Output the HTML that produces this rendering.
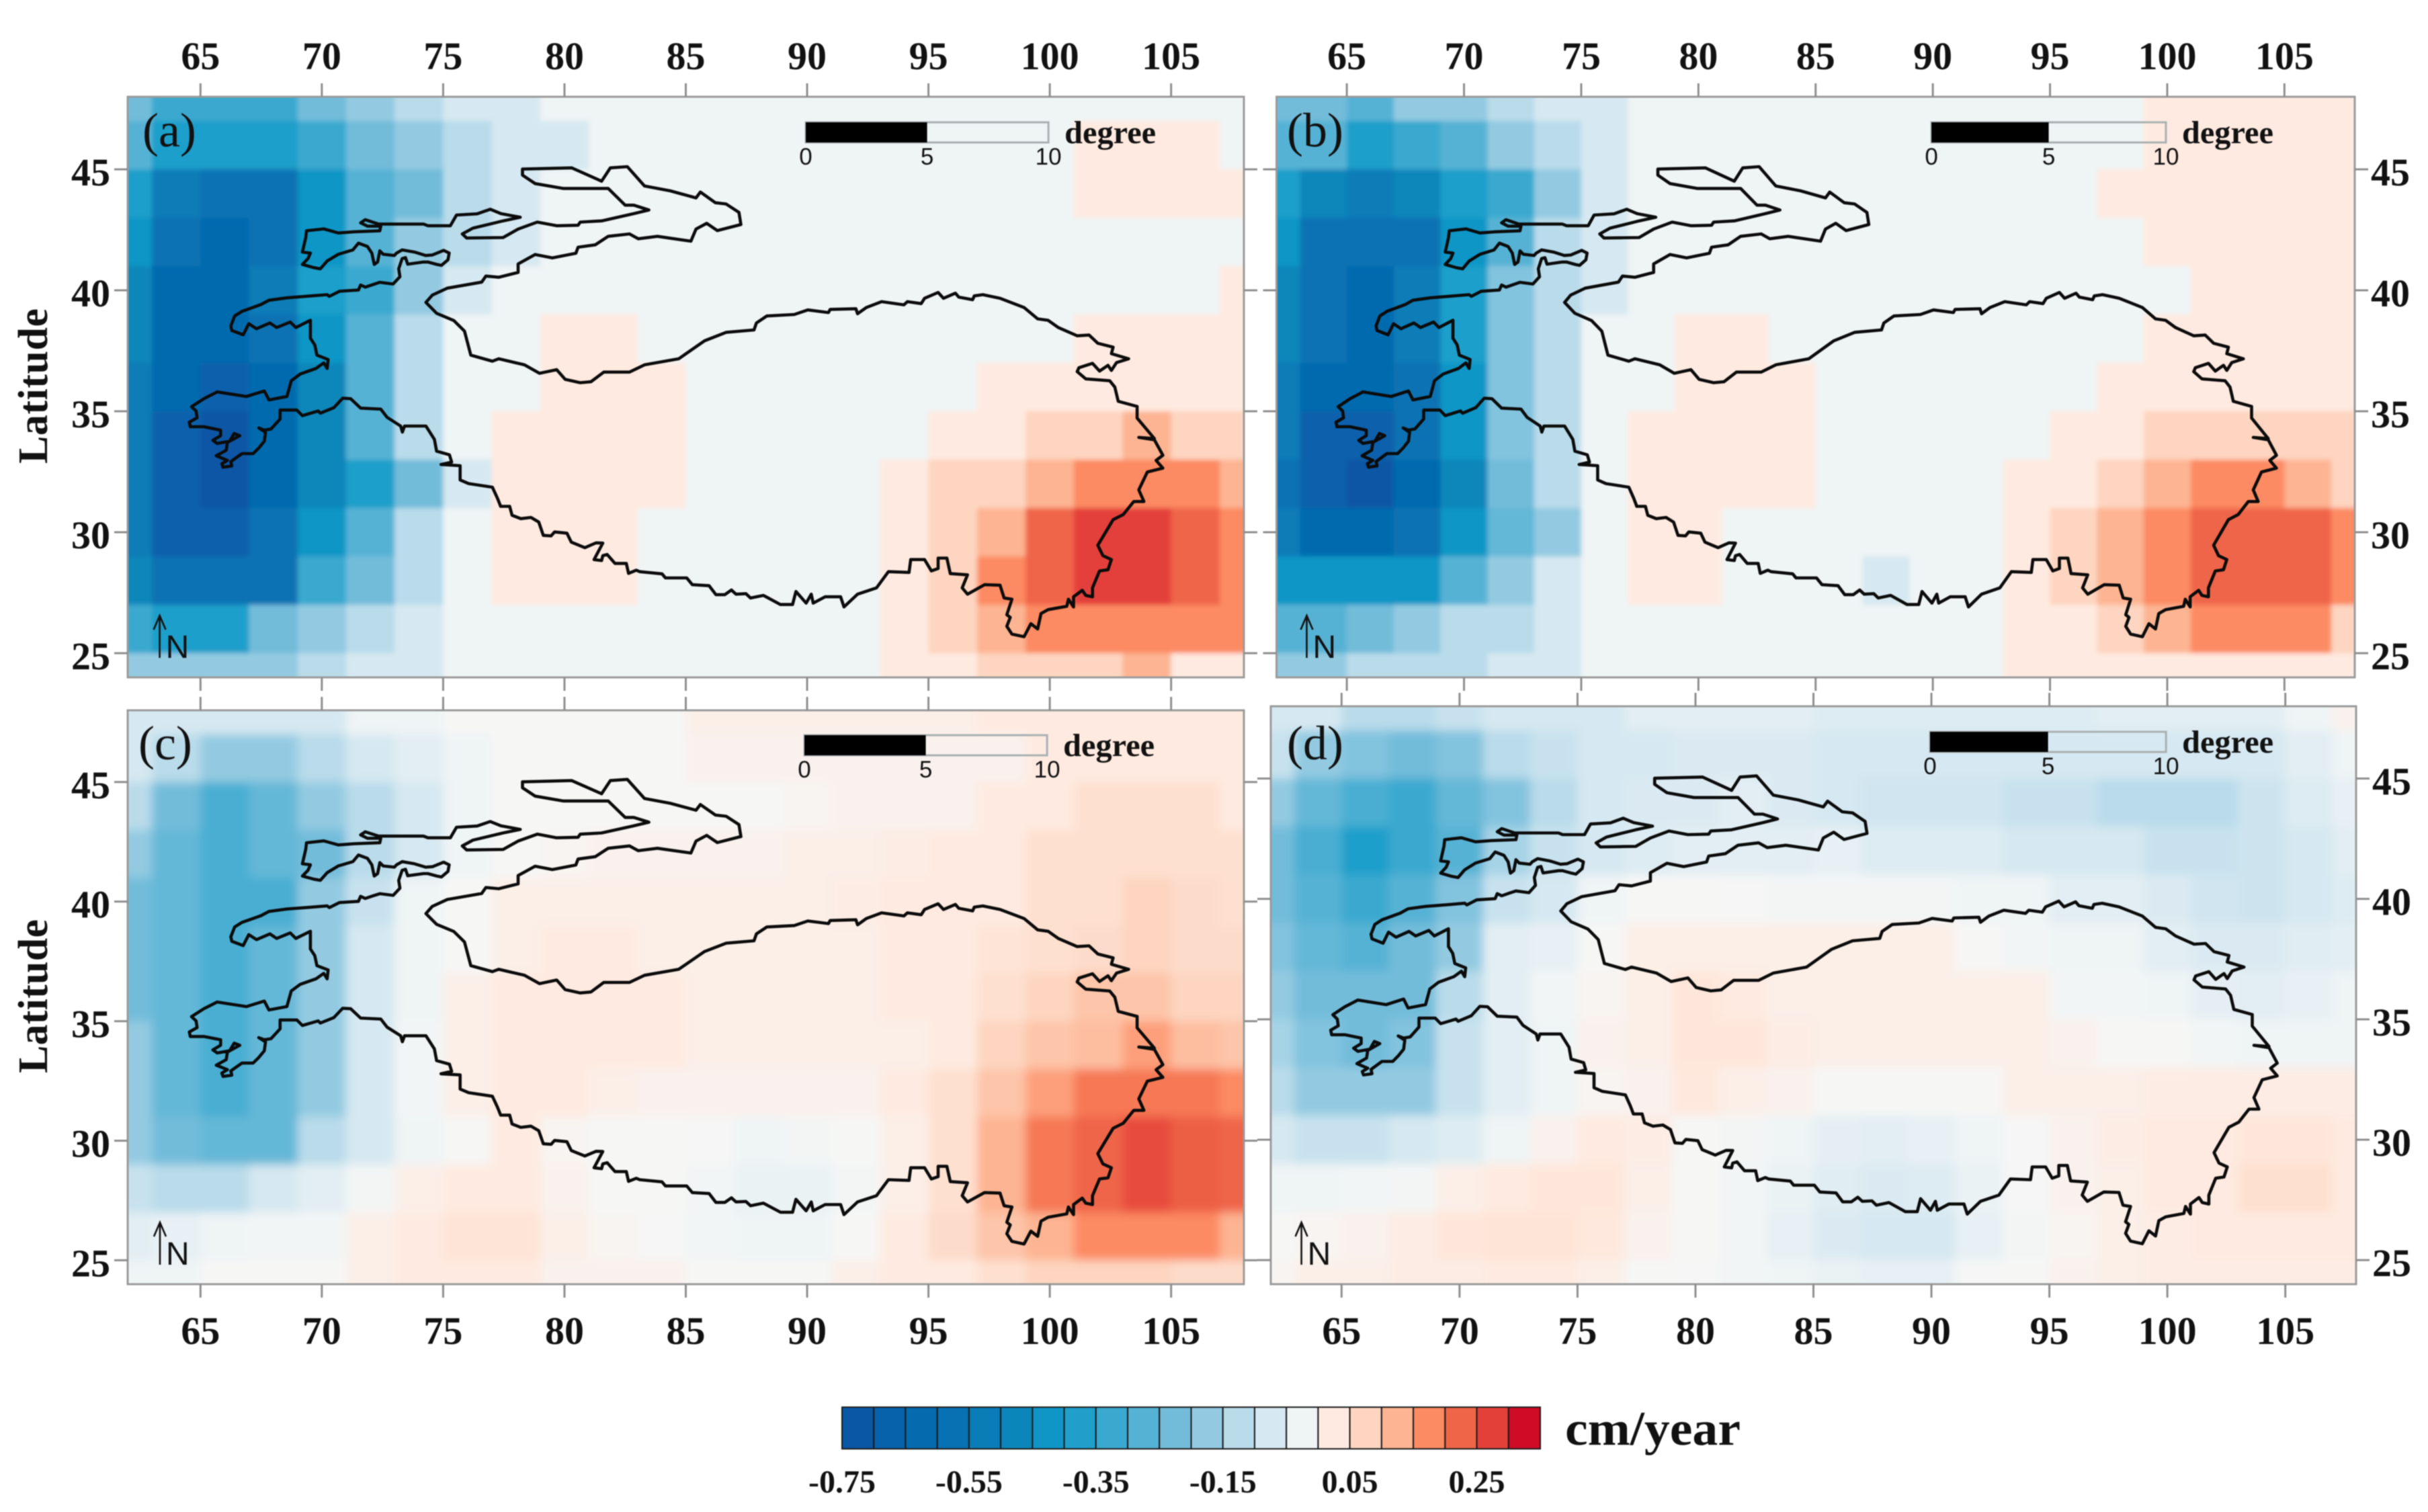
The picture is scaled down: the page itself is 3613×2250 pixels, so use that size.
<!DOCTYPE html>
<html lang="en">
<head>
<meta charset="utf-8">
<title>Trend maps (a)-(d), cm/year</title>
<style>
html,body{margin:0;padding:0;background:#fff}
svg{display:block;filter:blur(.8px)}
text{font-family:"Liberation Serif",serif;fill:#111}
.sans{font-family:"Liberation Sans",sans-serif}
</style>
</head>
<body>
<svg id="figure" xmlns="http://www.w3.org/2000/svg" width="3613" height="2250" viewBox="0 0 3613 2250">
  <rect width="3613" height="2250" fill="#fff"/>
  <defs>
    <filter id="soft-a" x="-5%" y="-5%" width="110%" height="110%"><feGaussianBlur stdDeviation="3.5"/></filter>
    <filter id="soft-c" x="-5%" y="-5%" width="110%" height="110%"><feGaussianBlur stdDeviation="7"/></filter>
  </defs>
  <g id="panels"></g>
  <text transform="translate(70,690) rotate(-90)" font-size="62" font-weight="bold" textLength="231" lengthAdjust="spacing">Latitude</text>
  <text transform="translate(70,1597) rotate(-90)" font-size="62" font-weight="bold" textLength="229" lengthAdjust="spacing">Latitude</text>
  <g id="colorbar"></g>
  <text x="2329" y="2150" font-size="72" font-weight="bold" textLength="261" lengthAdjust="spacingAndGlyphs">cm/year</text>
</svg>
<script>
// Grid cell centres (degrees)
const cellLons = [62,64,66,68,70,72,74,76,78,80,82,84,86,88,90,92,94,96,98,100,102,104,106,108];
const cellLats = [48,46,44,42,40,38,36,34,32,30,28,26,24];
// Axis tick labels
const lonTicks = [65,70,75,80,85,90,95,100,105];
const latTicks = [45,40,35,30,25];
const scaleBarLabels = [0,5,10];
// Colour bar
const colorbarColors = ["#0a57a5","#0761ab","#066aaf","#0772b3","#0a7cb7","#0b86ba","#0f96c6","#1f9fca","#3aa9cf","#56b2d4","#72bcda","#93cae1","#b9dbea","#d6e8f1","#eff4f5","#feeae0","#fdd5c0","#fdb492","#fc8a62","#ef6548","#e3403a","#cf0b25"];
const colorbarLabels = [-0.75,-0.55,-0.35,-0.15,0.05,0.25];
const colorbarLabelText = ["-0.75","-0.55","-0.35","-0.15","0.05","0.25"];
const neutralColor = "#f6f6f5";

// Trend values, cm/year, rows north to south, columns west to east
const valuesA = [
[-.225,-.325,-.325,-.325,-.225,-.175,-.125,-.075,-.075,-.025,-.025,-.025,-.025,-.025,-.025,-.025,-.025,-.025,-.025,-.025,-.025,-.025,-.025,-.025],
[-.275,-.375,-.375,-.375,-.325,-.225,-.175,-.125,-.075,-.075,-.025,-.025,-.025,-.025,-.025,-.025,-.025,-.025,-.025,-.025,.025,.025,.025,-.025],
[-.375,-.525,-.575,-.575,-.425,-.275,-.225,-.125,-.075,-.025,-.025,-.025,-.025,-.025,-.025,-.025,-.025,-.025,-.025,-.025,.025,.025,.025,.025],
[-.425,-.575,-.625,-.575,-.425,-.275,-.175,-.125,-.075,-.025,-.025,-.025,-.025,-.025,-.025,-.025,-.025,-.025,-.025,-.025,-.025,-.025,-.025,-.025],
[-.475,-.625,-.625,-.525,-.375,-.325,-.175,-.075,-.025,-.025,-.025,-.025,-.025,-.025,-.025,-.025,-.025,-.025,-.025,-.025,-.025,-.025,-.025,.025],
[-.475,-.625,-.625,-.575,-.425,-.275,-.125,-.025,-.025,.025,.025,-.025,-.025,-.025,-.025,-.025,-.025,-.025,-.025,-.025,.025,.025,.025,.025],
[-.525,-.625,-.675,-.625,-.475,-.275,-.125,-.025,-.025,.025,.025,.025,-.025,-.025,-.025,-.025,-.025,-.025,.025,.025,.025,.025,.025,.025],
[-.525,-.675,-.725,-.625,-.475,-.275,-.125,-.025,.025,.025,.025,.025,-.025,-.025,-.025,-.025,-.025,.025,.025,.075,.075,.125,.075,.075],
[-.525,-.675,-.725,-.625,-.475,-.375,-.225,-.075,.025,.025,.025,.025,-.025,-.025,-.025,-.025,.025,.075,.075,.125,.175,.175,.175,.125],
[-.525,-.675,-.675,-.575,-.425,-.275,-.125,-.025,.025,.025,.025,-.025,-.025,-.025,-.025,-.025,.025,.075,.125,.225,.275,.275,.225,.175],
[-.475,-.575,-.575,-.575,-.325,-.225,-.125,-.025,.025,.025,.025,-.025,-.025,-.025,-.025,-.025,.025,.075,.175,.225,.275,.275,.225,.175],
[-.325,-.375,-.375,-.225,-.175,-.125,-.075,-.025,-.025,-.025,-.025,-.025,-.025,-.025,-.025,-.025,.025,.075,.125,.175,.175,.175,.175,.175],
[-.175,-.175,-.175,-.175,-.125,-.075,-.075,-.025,-.025,-.025,-.025,-.025,-.025,-.025,-.025,-.025,.025,.025,.075,.075,.075,.125,.025,.025]
];
const valuesB = [
[-.225,-.225,-.275,-.175,-.175,-.125,-.075,-.075,-.025,-.025,-.025,-.025,-.025,-.025,-.025,-.025,-.025,-.025,-.025,.025,.025,.025,.025,.025],
[-.275,-.275,-.375,-.325,-.275,-.175,-.125,-.075,-.025,-.025,-.025,-.025,-.025,-.025,-.025,-.025,-.025,-.025,-.025,.025,.025,.025,.025,.025],
[-.375,-.475,-.525,-.475,-.375,-.325,-.175,-.075,-.025,-.025,-.025,-.025,-.025,-.025,-.025,-.025,-.025,-.025,.025,.025,.025,.025,.025,.025],
[-.425,-.575,-.575,-.575,-.425,-.275,-.125,-.075,-.025,-.025,-.025,-.025,-.025,-.025,-.025,-.025,-.025,-.025,-.025,.025,.025,.025,.025,.025],
[-.475,-.575,-.625,-.525,-.375,-.2,-.125,-.075,-.025,-.025,-.025,-.025,-.025,-.025,-.025,-.025,-.025,-.025,-.025,-.025,.025,.025,.025,.025],
[-.475,-.575,-.625,-.525,-.375,-.2,-.125,-.025,-.025,.025,.025,-.025,-.025,-.025,-.025,-.025,-.025,-.025,-.025,.025,.025,.025,.025,.025],
[-.525,-.625,-.625,-.575,-.425,-.2,-.125,-.025,-.025,.025,.025,.025,-.025,-.025,-.025,-.025,-.025,-.025,.025,.025,.025,.025,.025,.025],
[-.525,-.675,-.675,-.575,-.425,-.2,-.125,-.025,.025,.025,.025,.025,-.025,-.025,-.025,-.025,-.025,.025,.025,.075,.075,.075,.075,.075],
[-.575,-.675,-.725,-.625,-.475,-.225,-.125,-.025,.025,.025,.025,.025,-.025,-.025,-.025,-.025,.025,.025,.075,.125,.175,.175,.125,.075],
[-.525,-.625,-.625,-.575,-.425,-.25,-.175,-.025,.025,.025,-.025,-.025,-.025,-.025,-.025,-.025,.025,.075,.125,.175,.225,.225,.225,.175],
[-.425,-.425,-.425,-.425,-.275,-.175,-.075,-.025,.025,.025,-.025,-.025,-.025,-.075,-.025,-.025,.025,.075,.125,.175,.225,.225,.225,.175],
[-.275,-.275,-.225,-.175,-.125,-.125,-.075,-.025,-.025,-.025,-.025,-.025,-.025,-.025,-.025,-.025,.025,.025,.075,.125,.175,.175,.175,.075],
[-.175,-.175,-.125,-.125,-.125,-.075,-.075,-.025,-.025,-.025,-.025,-.025,-.025,-.025,-.025,-.025,.025,.025,.025,.025,.025,.025,.025,.025]
];
const valuesC = [
[-.075,-.075,-.075,-.075,-.075,-.025,-.025,0,0,0,0,0,.015,.015,.015,.015,.015,.015,.025,.025,.025,.025,.025,.025],
[-.075,-.125,-.175,-.175,-.125,-.075,-.05,-.025,0,0,0,0,.01,.01,.01,.01,.01,.01,.01,.025,.025,.025,.025,.025],
[-.125,-.225,-.3,-.25,-.175,-.125,-.075,-.025,0,0,0,0,0,0,.005,.01,.01,.01,.025,.025,.05,.05,.05,.025],
[-.175,-.25,-.3,-.25,-.225,-.125,-.075,-.025,0,.005,.01,.01,.01,.01,.015,.015,.02,.025,.025,.05,.05,.05,.05,.05],
[-.225,-.25,-.3,-.3,-.175,-.1,-.025,0,.015,.015,.015,.015,.015,.015,.015,.02,.025,.025,.025,.05,.05,.075,.06,.05],
[-.225,-.25,-.3,-.25,-.175,-.075,-.025,0,.015,.025,.025,.015,.015,.015,.015,.015,.025,.025,.04,.05,.06,.075,.06,.06],
[-.225,-.25,-.3,-.25,-.175,-.075,-.025,.015,.025,.025,.025,.025,.015,.015,.015,.015,.025,.025,.05,.075,.1,.1,.075,.075],
[-.175,-.25,-.3,-.25,-.175,-.075,-.015,.015,.025,.025,.025,.025,.015,.015,.015,.015,.015,.025,.075,.1,.11,.15,.11,.1],
[-.175,-.25,-.3,-.25,-.175,-.075,-.015,.015,.025,.025,.015,.01,.01,.01,.01,.01,.025,.05,.1,.15,.2,.2,.2,.175],
[-.175,-.225,-.25,-.25,-.125,-.075,-.025,0,.025,.005,0,0,-.005,-.025,-.01,0,.015,.05,.125,.2,.225,.26,.235,.225],
[-.1,-.125,-.125,-.075,-.05,-.01,.015,.025,.025,.01,0,0,-.015,-.035,-.035,-.01,.015,.05,.125,.2,.225,.26,.235,.225],
[-.05,-.04,-.025,-.015,-.015,.015,.025,.04,.04,.015,.005,-.005,-.015,-.025,-.025,0,.025,.06,.1,.125,.175,.175,.175,.125],
[-.025,-.025,0,0,0,.015,.025,.025,.025,.01,.01,.01,0,0,0,.015,.025,.025,.05,.075,.075,.075,.06,.06]
];
const valuesD = [
[-.075,-.075,-.125,-.125,-.1,-.075,-.075,-.075,-.05,-.05,-.05,-.05,-.06,-.06,-.06,-.06,-.06,-.06,-.05,-.05,-.05,-.05,-.025,.01],
[-.1,-.175,-.2,-.225,-.2,-.125,-.1,-.075,-.075,-.065,-.065,-.065,-.075,-.075,-.075,-.075,-.075,-.075,-.075,-.075,-.075,-.075,-.05,-.025],
[-.175,-.25,-.3,-.325,-.25,-.2,-.125,-.075,-.065,-.065,-.05,-.065,-.075,-.085,-.085,-.085,-.1,-.1,-.125,-.125,-.125,-.09,-.06,-.04],
[-.225,-.3,-.375,-.325,-.275,-.15,-.1,-.075,-.06,-.05,-.05,-.05,-.04,-.06,-.06,-.06,-.075,-.075,-.075,-.1,-.1,-.09,-.075,-.05],
[-.225,-.275,-.325,-.275,-.2,-.1,-.075,-.025,0,0,-.005,-.01,-.01,-.01,-.01,-.025,-.025,-.05,-.05,-.065,-.085,-.09,-.075,-.06],
[-.2,-.25,-.275,-.225,-.175,-.05,-.04,0,.015,.015,.015,.015,.015,.015,.015,0,-.015,-.025,-.025,-.05,-.065,-.065,-.055,-.05],
[-.175,-.225,-.225,-.225,-.125,-.05,-.015,.005,.015,.035,.025,.015,.015,.015,.015,.015,.015,-.015,-.015,-.025,-.045,-.05,-.04,-.025],
[-.15,-.2,-.225,-.2,-.1,-.05,-.025,.01,.015,.035,.035,.02,.015,.015,.015,.015,.015,.01,0,0,-.015,-.025,-.025,-.025],
[-.125,-.175,-.175,-.175,-.1,-.05,-.025,.005,.01,.03,.015,.01,0,0,0,0,.015,.015,.015,.02,.02,.02,.02,.02],
[-.075,-.1,-.1,-.075,-.06,-.025,.01,.025,.02,0,-.01,-.025,-.045,-.05,-.04,-.025,-.005,.01,.02,.025,.025,.035,.035,.025],
[-.025,-.025,-.015,-.01,.015,.025,.035,.035,.015,0,-.015,-.035,-.055,-.065,-.06,-.035,-.005,.01,.015,.025,.025,.05,.05,.025],
[0,.005,.01,.02,.035,.04,.04,.03,.01,0,-.015,-.04,-.065,-.075,-.075,-.04,-.01,.005,.015,.02,.025,.025,.025,.025],
[.005,.015,.015,.02,.02,.025,.025,.015,0,-.005,-.015,-.025,-.035,-.04,-.04,-.005,0,.01,.015,.02,.02,.02,.02,.02]
];

// Region boundary, digitised [longitude, latitude] in degrees
const regionOutline = [
[66.25,38.53],[66.41,38.94],[66.71,39.13],[67.49,39.41],[67.82,39.59],[68.56,39.69],[69.48,39.76],[70.22,39.82],[70.31,39.75],[70.73,39.96],[71.51,40.01],[71.6,40.22],[71.79,40.13],[72.11,40.24],[72.39,40.33],[72.94,40.26],[73.22,40.56],[73.17,40.89],[73.31,41.31],[73.45,41.35],[73.54,41.08],[74.19,41.17],[74.37,41.17],[74.74,41.07],[74.93,41.03],[75.2,41.26],[75.25,41.54],[75.02,41.65],[74.56,41.46],[74.28,41.44],[73.82,41.58],[73.31,41.67],[73.08,41.54],[72.99,41.44],[72.53,41.49],[72.39,41.63],[72.3,41.17],[72.16,41.07],[72.06,41.54],[71.88,41.81],[71.51,41.95],[71.28,41.67],[70.68,41.49],[70.22,41.21],[69.94,40.89],[69.66,40.94],[69.2,41.07],[69.43,41.31],[69.53,41.54],[69.2,41.58],[69.34,42.19],[69.37,42.46],[70.08,42.54],[70.68,42.37],[71.33,42.42],[72.39,42.46],[72.43,42.65],[71.88,42.65],[71.6,42.79],[71.79,42.92],[72.34,42.74],[74.19,42.74],[74.37,42.67],[75.3,42.67],[75.55,43.11],[76.4,43.16],[76.94,43.35],[77.38,43.17],[78.18,43.02],[77.47,42.87],[76.23,42.57],[75.79,42.33],[75.97,42.16],[77.47,42.18],[78.09,42.53],[78.88,42.82],[79.68,42.67],[80.56,42.69],[80.65,42.82],[81.53,42.87],[82.86,43.17],[83.48,43.32],[82.86,43.52],[82.5,43.52],[81.8,44.21],[79.94,44.21],[78.79,44.41],[78.27,44.76],[78.27,45.01],[80.3,45.06],[81.53,44.51],[81.89,45.06],[82.59,45.11],[83.3,44.31],[84.36,44.11],[85.42,43.82],[85.6,44.06],[86.22,43.62],[86.66,43.57],[87.19,43.22],[87.27,42.72],[86.3,42.47],[85.86,42.77],[85.42,42.53],[85.21,42.03],[83.83,42.23],[83.04,42.13],[82.68,42.33],[81.8,42.23],[81.27,41.88],[80.56,41.78],[80.47,41.53],[79.5,41.34],[78.79,41.48],[78.09,41.09],[78.09,40.74],[77.29,40.54],[76.76,40.59],[76.59,40.34],[75.17,40.09],[74.55,39.8],[74.29,39.5],[74.73,39.05],[75.44,38.75],[75.88,38.31],[76.14,37.32],[77.03,37.07],[77.29,37.17],[78.35,36.92],[78.97,36.57],[79.68,36.72],[80.03,36.32],[80.65,36.18],[81.09,36.22],[81.62,36.62],[82.68,36.62],[83.3,36.92],[84.71,37.17],[85.77,37.91],[86.66,38.26],[87.81,38.36],[87.91,38.65],[88.34,38.94],[89.47,39],[90.03,39.19],[90.88,39.08],[90.95,39.21],[92.01,39.24],[92.08,39.03],[92.44,39.29],[93.07,39.53],[93.99,39.4],[94.13,39.53],[94.7,39.45],[94.84,39.67],[95.4,39.91],[95.62,39.67],[96.11,39.88],[96.25,39.72],[96.82,39.61],[96.89,39.77],[97.24,39.82],[97.95,39.67],[98.94,39.29],[99.5,38.82],[99.93,38.76],[100.35,38.46],[101.13,38.12],[101.62,38.15],[101.98,37.81],[102.61,37.65],[102.54,37.38],[103.25,37.17],[102.75,37.01],[102.54,36.69],[102.4,36.9],[102.05,36.66],[101.76,36.98],[101.2,36.8],[101.13,36.64],[101.48,36.34],[102.47,36.26],[102.68,36],[102.82,35.41],[103.6,35.2],[103.6,34.72],[104.31,33.87],[103.67,33.92],[104.31,33.82],[104.66,33.18],[104.38,32.97],[104.66,32.65],[104.02,32.49],[103.67,31.75],[103.88,31.27],[103.46,31.27],[103.03,30.73],[102.61,30.52],[101.98,29.46],[102.19,29.03],[102.54,28.87],[102.4,28.45],[102.05,28.4],[101.76,27.7],[101.76,27.33],[101.48,27.39],[101.34,27.6],[100.98,27.33],[100.98,26.91],[100.77,27.23],[100.7,26.94],[99.93,26.8],[99.64,26.64],[99.5,26],[99.22,26.22],[98.94,25.68],[98.44,25.79],[98.23,26.11],[98.37,26.48],[98.23,26.59],[98.44,27.23],[98.12,27.28],[97.95,27.81],[97.31,27.83],[96.61,27.44],[96.39,27.7],[96.61,28.24],[95.9,28.29],[95.76,28.93],[95.4,28.93],[95.4,28.5],[95.12,28.4],[94.84,28.87],[94.27,28.87],[94.2,28.34],[93.35,28.37],[92.86,27.7],[92.08,27.44],[91.52,26.91],[91.38,27.33],[90.74,27.33],[90.25,27.07],[90.17,27.44],[89.96,27.07],[89.54,27.55],[89.4,27.01],[88.9,27.01],[88.2,27.39],[87.67,27.28],[87.48,27.46],[87.07,27.44],[86.88,27.61],[86.61,27.42],[86.24,27.42],[85.96,27.79],[85.27,27.83],[85.04,28.11],[84.16,28.11],[84.02,28.28],[83.1,28.37],[82.96,28.43],[82.64,28.3],[82.55,28.71],[82.08,28.71],[81.76,29.08],[81.58,29.03],[81.53,28.83],[81.22,28.87],[81.58,29.55],[81.3,29.56],[80.84,29.36],[80.28,29.59],[80.1,29.96],[79.59,30.01],[79.45,29.85],[79.13,29.87],[78.94,30.42],[78.62,30.61],[78.2,30.56],[77.84,30.7],[77.74,31.07],[77.37,31.07],[77.24,31.4],[77.03,31.86],[76.05,32.01],[75.7,32.16],[75.7,32.75],[74.91,32.8],[75.35,32.9],[75.26,33.2],[74.73,33.35],[74.64,33.84],[74.29,34.39],[73.41,34.39],[73.32,34.14],[73.25,34.39],[72.69,34.75],[72.43,35.09],[71.6,35.13],[71.19,35.52],[70.86,35.54],[70.5,35.15],[69.94,34.92],[69.85,35.01],[69.2,34.82],[68.97,35.05],[68.28,35.05],[68.28,34.68],[67.91,34.27],[67.63,34.22],[67.4,34.31],[67.68,34.13],[67.63,33.76],[67.4,33.48],[67.17,33.25],[66.71,33.25],[66.25,32.92],[66.29,32.74],[65.93,32.69],[65.88,32.83],[66.11,32.97],[65.65,33.16],[66.06,33.39],[66.11,33.71],[66.62,33.99],[66.39,34.08],[66.2,33.76],[65.69,33.67],[65.51,33.8],[65.83,33.99],[65.83,34.22],[65.14,34.36],[64.58,34.36],[64.54,34.55],[64.86,34.73],[64.82,35.01],[64.63,35.19],[65.14,35.52],[65.69,35.8],[66.89,35.61],[67.63,35.84],[67.82,35.47],[68.56,35.61],[68.74,36.26],[69.11,36.54],[69.76,36.77],[70.08,37],[70.22,36.77],[70.26,37.14],[69.8,37.32],[69.71,37.74],[69.53,38.02],[69.53,38.76],[68.93,38.46],[68.7,38.69],[68.14,38.46],[67.86,38.65],[67.31,38.41],[66.99,38.62],[66.76,38.16],[66.29,38.34]
];

// Page layout of each panel (pixels)
const NS = "http://www.w3.org/2000/svg";
const panelLayouts = [
  {id:"a", values:valuesA, left:190,  right:1851, top:144,  bottom:1008, blur:"soft-a", lx:22, ly:218,  bar:182,  bx:-2, ax:47.6, tickTop:true,  tickBottom:false, labelLeft:true,  labelRight:false},
  {id:"b", values:valuesB, left:1899.5,right:3504,top:144,  bottom:1008, blur:"soft-a", lx:15.5,ly:218, bar:182,  bx:-2, ax:45,   tickTop:true,  tickBottom:false, labelLeft:false, labelRight:true},
  {id:"c", values:valuesC, left:190,  right:1851, top:1057, bottom:1911, blur:"soft-c", lx:16, ly:1130, bar:1094, bx:-4, ax:48,   tickTop:false, tickBottom:true,  labelLeft:true,  labelRight:false},
  {id:"d", values:valuesD, left:1891, right:3506, top:1051, bottom:1911, blur:"soft-c", lx:24, ly:1130, bar:1089, bx:-2, ax:45.6, tickTop:false, tickBottom:true,  labelLeft:false, labelRight:true}
];
const LON_MIN = 62, LON_MAX = 108, LAT_MIN = 24, LAT_MAX = 48;

function make(tag, attrs, parent, text) {
  const node = document.createElementNS(NS, tag);
  for (const k in attrs) node.setAttribute(k, attrs[k]);
  if (text !== undefined) node.textContent = text;
  parent.appendChild(node);
  return node;
}
function hexToRgb(h) {
  return [parseInt(h.slice(1,3),16), parseInt(h.slice(3,5),16), parseInt(h.slice(5,7),16)];
}
const BIN_START = -0.75, BIN_WIDTH = 0.05;
function colorFor(v) {
  const stops = [];
  colorbarColors.forEach(function (c, i) { stops.push([BIN_START + BIN_WIDTH * (i + 0.5), hexToRgb(c)]); });
  stops.splice(15, 0, [0, hexToRgb(neutralColor)]);
  if (v <= stops[0][0]) return colorbarColors[0];
  if (v >= stops[stops.length - 1][0]) return colorbarColors[colorbarColors.length - 1];
  for (let i = 1; i < stops.length; i++) {
    if (v <= stops[i][0]) {
      const t = (v - stops[i-1][0]) / (stops[i][0] - stops[i-1][0]);
      const a = stops[i-1][1], b = stops[i][1];
      return "rgb(" + Math.round(a[0]+(b[0]-a[0])*t) + "," + Math.round(a[1]+(b[1]-a[1])*t) + "," + Math.round(a[2]+(b[2]-a[2])*t) + ")";
    }
  }
  return neutralColor;
}

const panelsRoot = document.getElementById("panels");
const defs = document.querySelector("defs");

panelLayouts.forEach(function (p) {
  const xs = function (lon) { return p.left + (lon - LON_MIN) / (LON_MAX - LON_MIN) * (p.right - p.left); };
  const ys = function (lat) { return p.top + (LAT_MAX - lat) / (LAT_MAX - LAT_MIN) * (p.bottom - p.top); };

  const group = make("g", {}, panelsRoot);
  
  

  const clip = make("clipPath", {id: "clip-" + p.id}, defs);
  make("rect", {x: p.left, y: p.top, width: p.right - p.left, height: p.bottom - p.top}, clip);

  const clipGroup = make("g", {"clip-path": "url(#clip-" + p.id + ")"}, group);
  
  

  const raster = make("g", {filter: "url(#" + p.blur + ")", "shape-rendering": "crispEdges"}, clipGroup);
  
  

  cellLats.forEach(function (lat, r) {
    cellLons.forEach(function (lon, c) {
      const x0 = xs(lon - 1), x1 = xs(lon + 1), y0 = ys(lat + 1), y1 = ys(lat - 1);
      const cell = make("rect", {x: x0, y: y0, width: x1 - x0 + 0.6, height: y1 - y0 + 0.6, fill: colorFor(p.values[r][c])}, raster);
      
      
    });
  });

  const d = regionOutline.map(function (pt, i) {
    return (i ? "L" : "M") + xs(pt[0]).toFixed(1) + " " + ys(pt[1]).toFixed(1);
  }).join("") + "Z";
  const outline = make("path", {d: d, fill: "none", stroke: "#0b0b0b", "stroke-width": 4.6, "stroke-linejoin": "round", "stroke-linecap": "round"}, clipGroup);
  
  

  const frame = make("rect", {x: p.left, y: p.top, width: p.right - p.left, height: p.bottom - p.top, fill: "none", stroke: "#9a9a9a", "stroke-width": 3}, group);
  
  

  const TICK = 20;
  lonTicks.forEach(function (lon) {
    const x = xs(lon);
    const t1 = make("line", {x1: x, x2: x, y1: p.top - TICK, y2: p.top, stroke: "#8d8d8d", "stroke-width": 3}, group);
    
    
    const t2 = make("line", {x1: x, x2: x, y1: p.bottom, y2: p.bottom + TICK, stroke: "#8d8d8d", "stroke-width": 3}, group);
    
    
    if (p.tickTop) {
      const lab = make("text", {x: x, y: 103, "font-size": 58, "font-weight": "bold", "text-anchor": "middle"}, group, String(lon));
      
      
    }
    if (p.tickBottom) {
      const lab = make("text", {x: x, y: 2000, "font-size": 58, "font-weight": "bold", "text-anchor": "middle"}, group, String(lon));
      
      
    }
  });
  latTicks.forEach(function (lat) {
    const y = ys(lat);
    const t1 = make("line", {x1: p.left - TICK, x2: p.left, y1: y, y2: y, stroke: "#8d8d8d", "stroke-width": 3}, group);
    
    
    const t2 = make("line", {x1: p.right, x2: p.right + TICK, y1: y, y2: y, stroke: "#8d8d8d", "stroke-width": 3}, group);
    
    
    if (p.labelLeft) {
      const lab = make("text", {x: p.left - 26, y: y + 24, "font-size": 58, "font-weight": "bold", "text-anchor": "end"}, group, String(lat));
      
      
    }
    if (p.labelRight) {
      const lab = make("text", {x: p.right + 24, y: y + 24, "font-size": 58, "font-weight": "bold", "text-anchor": "start"}, group, String(lat));
      
      
    }
  });

  const letter = make("text", {x: p.left + p.lx, y: p.ly, "font-size": 72}, group, "(" + p.id + ")");
  
  

  // Scale bar: 10 degrees long, starting at 90E
  const sb = make("g", {}, group);
  
  
  const sbx = function (deg) { return xs(90 + deg) + p.bx; };
  const whole = make("rect", {x: sbx(0), y: p.bar, width: sbx(10) - sbx(0), height: 30, fill: "none", stroke: "#a9b0b2", "stroke-width": 3}, sb);
  
  
  const half = make("rect", {x: sbx(0), y: p.bar, width: sbx(5) - sbx(0), height: 30, fill: "#000"}, sb);
  
  
  scaleBarLabels.forEach(function (deg) {
    const lab = make("text", {x: sbx(deg), y: p.bar + 63, "font-size": 35, "text-anchor": "middle", "class": "sans"}, sb, String(deg));
    
    
  });
  const unit = make("text", {x: sbx(10) + 24, y: p.bar + 31, "font-size": 48, "font-weight": "bold", textLength: 136, lengthAdjust: "spacingAndGlyphs"}, sb, "degree");
  
  

  // North arrow
  const na = make("g", {fill: "none", stroke: "#111", "stroke-width": 2.6}, group);
  
  
  const ax = p.left + p.ax, a0 = p.bottom - 92, a1 = p.bottom - 29;
  const shaft = make("path", {d: "M" + ax + " " + a1 + "V" + a0 + "M" + (ax - 9) + " " + (a0 + 21) + "L" + ax + " " + a0 + "L" + (ax + 9) + " " + (a0 + 21)}, na);
  
  
  const nLabel = make("text", {x: ax + 9, y: a1, "font-size": 48, "class": "sans", stroke: "none"}, group, "N");
  
  
});

// Colour bar
const cb = document.getElementById("colorbar");
const CB_LEFT = 1253, CB_RIGHT = 2292, CB_TOP = 2094, CB_BOTTOM = 2156;
const cbScale = function (v) {
  const span = BIN_WIDTH * colorbarColors.length;
  return CB_LEFT + (v - BIN_START) / span * (CB_RIGHT - CB_LEFT);
};
colorbarColors.forEach(function (c, i) {
  const v0 = BIN_START + i * BIN_WIDTH;
  const seg = make("rect", {x: cbScale(v0), y: CB_TOP, width: cbScale(v0 + BIN_WIDTH) - cbScale(v0), height: CB_BOTTOM - CB_TOP, fill: c, stroke: "#1a1a1a", "stroke-width": 2}, cb);
  
  
});
colorbarLabels.forEach(function (v, i) {
  const lab = make("text", {x: cbScale(v), y: 2221, "font-size": 48, "font-weight": "bold", "text-anchor": "middle"}, cb, colorbarLabelText[i]);
  
  
});
</script>
</body>
</html>
